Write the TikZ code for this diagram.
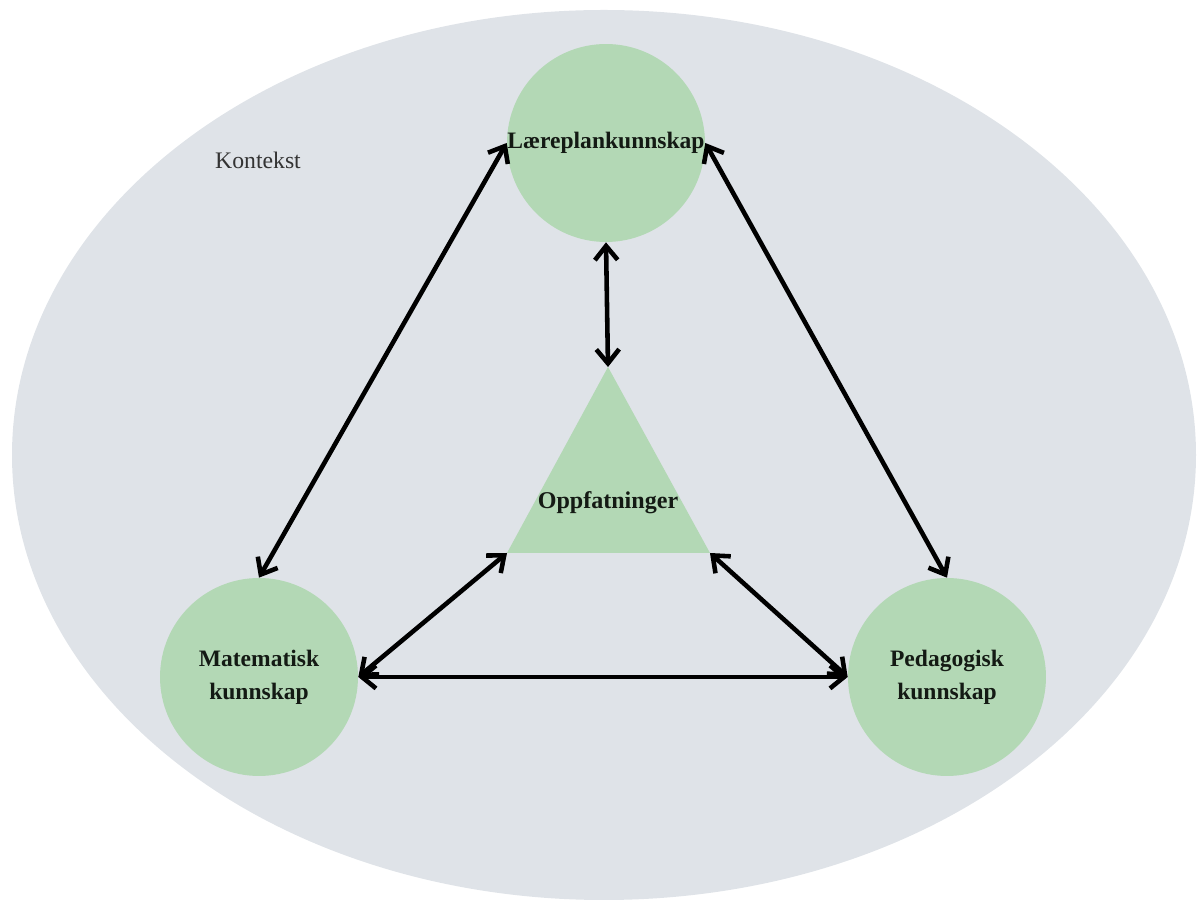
\documentclass[tikz,border=0pt]{standalone}
\usepackage{fontspec}
\setmainfont{Liberation Serif}
\usetikzlibrary{arrows.meta}
\definecolor{ctxgray}{HTML}{DFE3E8}
\definecolor{knowgreen}{HTML}{B3D8B5}
\definecolor{inktext}{HTML}{141A14}
\begin{document}
\begin{tikzpicture}[x=0.02cm,y=-0.02cm,
  know/.style={circle, fill=knowgreen, minimum size=3.96cm, inner sep=0pt,
    align=center, text=inktext,
    font=\fontsize{13.4}{18.7}\selectfont\bfseries},
  link/.style={line width=2.6pt, line cap=round,
    {Straight Barb[length=8pt,width=13pt]}-{Straight Barb[length=8pt,width=13pt]}}]
\useasboundingbox (0,0) rectangle (1198,901);
% context ellipse
\fill[ctxgray] (604,455) ellipse [x radius=592, y radius=445];
\node[text=black!80, font=\fontsize{13.5}{16}\selectfont] (ctx) at (258,160) {Kontekst};

% knowledge circles
\node[know] (lp)  at (606,143) {Læreplankunnskap};
\node[know] (mat) at (259,677) {Matematisk\\kunnskap};
\node[know] (ped) at (947,677) {Pedagogisk\\kunnskap};

% beliefs triangle
\coordinate (apex) at (608,367);
\coordinate (bl)   at (507,553);
\coordinate (br)   at (710,553);
\fill[knowgreen] (apex) -- (bl) -- (br) -- cycle;
\node[text=inktext, font=\fontsize{13.7}{16}\selectfont\bfseries] (opp) at (608,503) {Oppfatninger};

% two-way links
\draw[link] (lp.180) -- (mat.90);
\draw[link] (lp.0) -- (ped.90);
\draw[link] (lp.270) -- (apex);
\draw[link] (mat.0) -- (bl);
\draw[link] (ped.180) -- (br);
\draw[link] (mat.0) -- (ped.180);
\end{tikzpicture}
\end{document}
